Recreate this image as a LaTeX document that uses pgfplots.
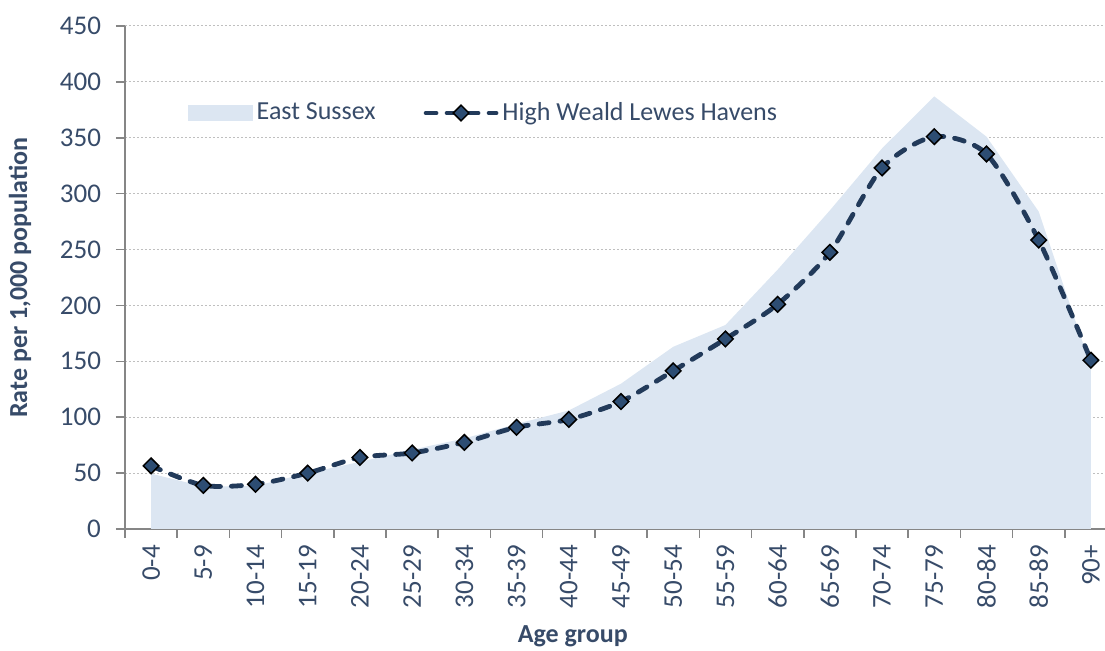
\documentclass[border=0pt]{standalone}
\usepackage{fontspec}
\setmainfont{Carlito}
\usepackage{pgfplots}
\pgfplotsset{compat=1.18}

\definecolor{txt}{RGB}{55,75,105}
\definecolor{linecol}{RGB}{34,58,90}
\definecolor{markcol}{RGB}{45,77,115}
\definecolor{areacol}{RGB}{220,230,242}
\definecolor{gridcol}{RGB}{191,191,191}
\definecolor{axcol}{RGB}{134,134,134}

\pgfplotsset{
    arealeg/.style={legend image code/.code={\fill[areacol] (0pt,-4pt) rectangle (32.5pt,4pt);}},
    lineleg/.style={legend image code/.code={\draw[mark repeat=2, mark phase=2, ##1] plot coordinates {(0pt,0pt) (17.5pt,0pt) (35pt,0pt)};}},
}

\begin{document}
\begin{tikzpicture}
\begin{axis}[
    at={(0,0)}, anchor=south west,
    scale only axis,
    width=490pt, height=251.5pt,
    xmin=-0.5, xmax=18.27,
    ymin=0, ymax=450,
    ytick={0,50,...,450},
    axis lines=left,
    axis line style={-, draw=axcol, line width=0.8pt},
    tick align=outside,
    major tick length=4.5pt,
    tick style={draw=axcol, line width=0.8pt},
    ymajorgrids,
    major grid style={draw=gridcol, line width=0.5pt, dash pattern=on 1pt off 1pt},
    xtick={-0.5,0.5,...,17.5},
    xticklabels={},
    extra x ticks={0,1,...,18},
    extra x tick labels={0-4,5-9,10-14,15-19,20-24,25-29,30-34,35-39,40-44,45-49,50-54,55-59,60-64,65-69,70-74,75-79,80-84,85-89,90+},
    extra x tick style={tick style={draw=none}},
    xticklabel style={rotate=90, anchor=east, font=\fontsize{13.5}{15}\selectfont, text=txt},
    yticklabel style={font=\fontsize{13.5}{15}\selectfont, text=txt, xshift=-4pt},
    /pgf/number format/assume math mode=true,
    xlabel={Age group},
    ylabel={Rate per 1,000 population},
    xlabel style={at={(axis description cs:0.457,-0.2127)}, anchor=center, font=\bfseries\fontsize{13}{15}\selectfont, text=txt},
    ylabel style={at={(axis description cs:-0.1071,0.5)}, anchor=center, font=\bfseries\fontsize{13}{15}\selectfont, text=txt},
    legend columns=2,
    legend style={at={(axis description cs:0.0575,0.827)}, anchor=west, draw=none, fill=none,
        font=\fontsize{13}{15}\selectfont, text=txt,
        /tikz/every even column/.append style={column sep=22pt}},
    legend cell align=left,
    clip=false,
]

% East Sussex
\addplot[fill=areacol, draw=none, arealeg]
coordinates {
(0,49.5) (1,38) (2,38.5) (3,50) (4,60) (5,71) (6,81) (7,94) (8,106) (9,130)
(10,163) (11,182.5) (12,232) (13,285) (14,340.5) (15,387) (16,351) (17,284) (18,145)
} \closedcycle;
\addlegendentry{East Sussex}

% High Weald Lewes Havens
\addplot[smooth, tension=0.45, draw=linecol, line width=2.4pt, line cap=round, dash pattern=on 5pt off 5.5pt,
    mark=square*, mark size=2.75pt,
    mark options={rotate=45, solid, fill=markcol, draw=black, line width=0.75pt},
    lineleg]
coordinates {
(0,56.5) (1,39) (2,40) (3,50) (4,64) (5,68) (6,77.5) (7,91) (8,98) (9,114)
(10,141.5) (11,170) (12,201) (13,247.5) (14,323) (15,351) (16,335.5) (17,258.5) (18,151)
};
\addlegendentry{High Weald Lewes Havens}
\end{axis}
\pgfresetboundingbox
\path (-62.5pt,-61pt) rectangle (490pt,264.5pt);
\end{tikzpicture}
\end{document}
